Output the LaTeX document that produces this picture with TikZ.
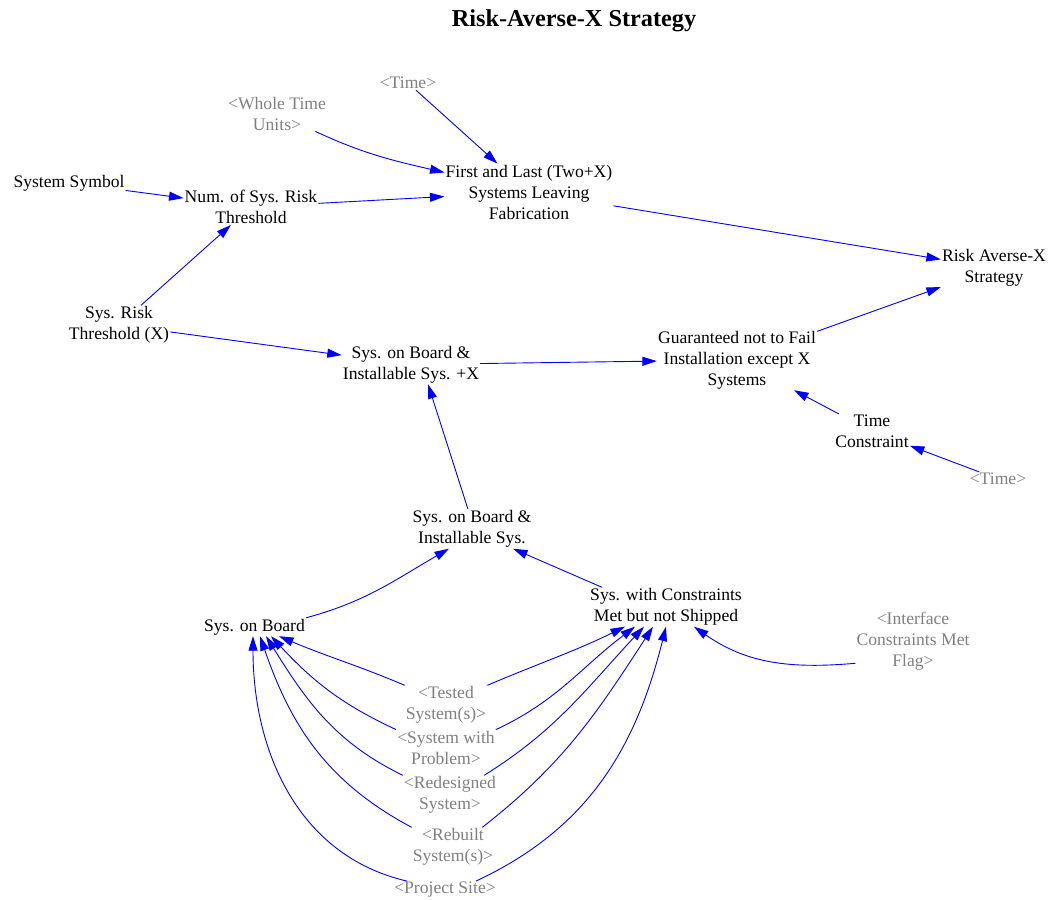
\documentclass[tikz,border=0pt]{standalone}
\usepackage{fontspec}
\setmainfont{Liberation Serif}
\usetikzlibrary{arrows.meta}
\definecolor{linkblue}{RGB}{0,0,255}
\definecolor{shadowtext}{RGB}{128,128,128}
\begin{document}
\begin{tikzpicture}[x=1pt,y=1pt,
  varnode/.style={align=center,inner sep=1pt,font=\fontsize{17.6}{21}\selectfont},
  shadownode/.style={varnode,text=shadowtext},
  link/.style={draw=linkblue,line width=0.9pt,-{Triangle[length=14.5pt,width=9pt]}},
]
\useasboundingbox (0,0) rectangle (1053,900);

% title
\node[font=\bfseries\fontsize{24.3}{28}\selectfont] (title) at (574,879) {Risk-Averse-X Strategy};

% upper part
\node[shadownode] (time1) at (408,817) {<Time>};
\node[shadownode] (whole) at (277,786.5) {<Whole Time\\Units>};
\node[varnode] (first) at (529,708) {First and Last (Two+X)\\Systems Leaving\\Fabrication};
\node[varnode] (sym) at (69,717) {System Symbol};
\node[varnode] (num) at (251,693) {Num. of Sys. Risk\\Threshold};
\node[varnode] (thresh) at (119,575) {Sys. Risk\\Threshold (X)};
\node[varnode] (ravx) at (994,632) {Risk Averse-X\\Strategy};
\node[varnode] (guar) at (737,540) {Guaranteed not to Fail\\Installation except X\\Systems};
\node[varnode] (obx) at (411,535.5) {Sys. on Board \&\\Installable Sys. +X};
\node[varnode] (tc) at (872,468.5) {Time\\Constraint};
\node[shadownode] (time2) at (998,421) {<Time>};

% lower part
\node[varnode] (ob) at (472,371) {Sys. on Board \&\\Installable Sys.};
\node[varnode] (sob) at (254.5,273) {Sys. on Board};
\node[varnode] (sc) at (666,293) {Sys. with Constraints\\Met but not Shipped};
\node[shadownode] (iface) at (913,259) {<Interface\\Constraints Met\\Flag>};
\node[shadownode] (tested) at (446,195) {<Tested\\System(s)>};
\node[shadownode] (problem) at (446,152.5) {<System with\\Problem>};
\node[shadownode] (redes) at (450,105) {<Redesigned\\System>};
\node[shadownode] (rebuilt) at (453,53) {<Rebuilt\\System(s)>};
\node[shadownode] (psite) at (445,10) {<Project Site>};

% links in the upper part
\draw[link] (time1) -- (first);
\draw[link] (whole) to[out=-25,in=167] (first);
\draw[link] (sym) -- (num);
\draw[link] (num) -- (first);
\draw[link] (thresh) -- (num);
\draw[link] (first) -- (ravx);
\draw[link] (guar) -- (ravx);
\draw[link] (thresh) -- (obx);
\draw[link] (obx) -- (guar);
\draw[link] (tc) -- (guar);
\draw[link] (time2) -- (tc);
\draw[link] ([xshift=-4pt]ob.north) -- ([xshift=17pt]obx.south);

% links in the lower part
\draw[link] (sob.north east) to[out=15,in=-150] ([xshift=-23pt]ob.south);
\draw[link] ([xshift=-64pt]sc.north) -- ([xshift=41pt]ob.south);
\draw[link] ([yshift=8pt]iface.south west) to[out=185,in=-35] ([xshift=28pt]sc.south);

% shadow variables feeding both stocks
\draw[link] (tested.north west) to[out=157,in=-23] ([xshift=24.5pt]sob.south);
\draw[link] (problem.north west) to[out=155,in=-47] ([xshift=16.5pt]sob.south);
\draw[link] (redes.north west) to[out=154,in=-58] ([xshift=11.5pt]sob.south);
\draw[link] (rebuilt.north west) to[out=152,in=-71] ([xshift=5.5pt]sob.south);
\draw[link] ([xshift=14pt]psite.north west) to[out=167,in=-90] ([xshift=-1.5pt]sob.south);

\draw[link] (tested.north east) to[out=23,in=-154] ([xshift=-41pt]sc.south);
\draw[link] (problem.north east) to[out=25,in=-143] ([xshift=-31pt]sc.south);
\draw[link] ([xshift=-13pt]redes.north east) to[out=32,in=-133] ([xshift=-22pt]sc.south);
\draw[link] ([xshift=-12pt]rebuilt.north east) to[out=38,in=-123] ([xshift=-13pt]sc.south);
\draw[link] ([xshift=-21pt]psite.north east) to[out=25,in=-104] (sc.south);
\end{tikzpicture}
\end{document}
